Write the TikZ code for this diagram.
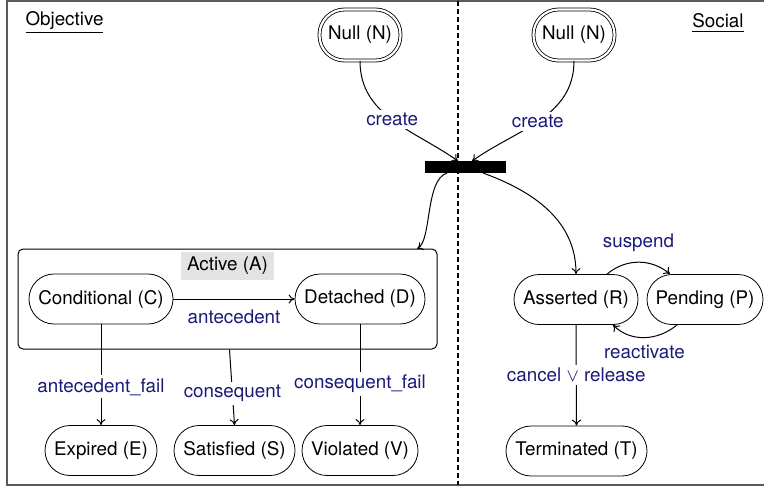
\documentclass[tikz,border=0pt]{standalone}
\usepackage{fontspec}
\setmainfont{TeX Gyre Heros}
\usetikzlibrary{arrows.meta}
\definecolor{lblblue}{RGB}{26,26,120}
\definecolor{framegray}{RGB}{90,90,90}
\tikzset{
  every node/.style={font=\fontsize{9.4}{11}\selectfont},
  state/.style={draw, rounded corners=12.5pt, minimum height=25pt, inner sep=1pt},
  nullstate/.style={draw, double, double distance=1.1pt, rounded corners=12.5pt, minimum height=25.5pt, minimum width=40.5pt, inner sep=1pt},
  lbl/.style={text=lblblue, fill=white, inner sep=1.5pt},
  arr/.style={-{To[length=3pt,width=4.5pt]}, line width=0.5pt},
  plain/.style={line width=0.5pt},
}
\begin{document}
\begin{tikzpicture}[x=0.5pt,y=-0.5pt]
\useasboundingbox (0,0) rectangle (764,487);
% frame
\draw[framegray, line width=0.8pt] (764,1) -- (7,1) -- (7,485) -- (764,485);
% dashed separator
\draw[line width=0.8pt, dash pattern=on 2.4pt off 1.6pt] (458,1) -- (458,485);
% titles
\node (obj) at (64.5,23) {\underline{Objective}};
\node (soc) at (718,23) {\underline{Social}};
% null states
\node[nullstate] (NL) at (360,35) {Null (N)};
\node[nullstate] (NR) at (574,35) {Null (N)};
% bar
\node[fill=black, minimum width=40.5pt, minimum height=6pt, inner sep=0pt] (bar) at (465.5,167) {};
\coordinate (barL) at (458,161);
\coordinate (barR) at (472,161);
\coordinate (barBL) at (447,173);
\coordinate (barBR) at (483,173);
% active box
\node[draw, rounded corners=2.5pt, minimum width=209.5pt, minimum height=50pt, inner sep=0pt, line width=0.5pt] (A) at (227.5,299) {};
\node[fill=black!11, minimum width=46.5pt, minimum height=14pt, inner sep=0pt] (Alab) at (227.5,266) {Active (A)};
\coordinate (Aent) at (417,249);
% states
\node[state, minimum width=72pt] (C) at (101,299) {Conditional (C)};
\node[state, minimum width=65pt] (D) at (360,299) {Detached (D)};
\node[state, minimum width=56pt] (E) at (101,450.5) {Expired (E)};
\node[state, minimum width=60.5pt] (S) at (234.5,450.5) {Satisfied (S)};
\node[state, minimum width=58pt] (V) at (360,450.5) {Violated (V)};
\node[state, minimum width=62pt] (R) at (576,299.5) {Asserted (R)};
\node[state, minimum width=58pt] (P) at (705,299.5) {Pending (P)};
\node[state, minimum width=70.5pt] (T) at (576.5,451) {Terminated (T)};
% create edges
\draw[arr] (NL.south) to[out=-90,in=145] node[lbl, pos=0.5] {create} (barL);
\draw[arr] (NR.south) to[out=-90,in=35] node[lbl, pos=0.52] {create} (barR);
% bar to active / asserted
\draw[arr] (barBL) .. controls (425,180) and (432,240) .. (Aent);
\draw[arr] (barBR) to[out=-20,in=90] (R.north);
% objective transitions
\draw[arr] (C.east) -- node[lbl, yshift=-8.75pt, fill=none] {antecedent} (D.west);
\draw[arr] (C.south) -- node[lbl, pos=0.62] {antecedent\_fail} (E.north);
\draw[arr] ([xshift=1pt]A.south) -- node[lbl, pos=0.58] {consequent} (S.north);
\draw[arr] (D.south) -- node[lbl, pos=0.59] {consequent\_fail} (V.north);
% social transitions
\draw[arr] ([xshift=15.5pt]R.north) to[out=40,in=140] node[lbl, pos=0.5, yshift=10pt, fill=none] {suspend} ([xshift=-17.5pt]P.north);
\draw[arr] ([xshift=-14pt]P.south) to[out=-140,in=-45] node[lbl, pos=0.5, yshift=-7pt, fill=none] {reactivate} ([xshift=18.5pt]R.south);
\draw[arr] (R.south) -- node[lbl, pos=0.5] {cancel $\vee$ release} (T.north);
\end{tikzpicture}
\end{document}
